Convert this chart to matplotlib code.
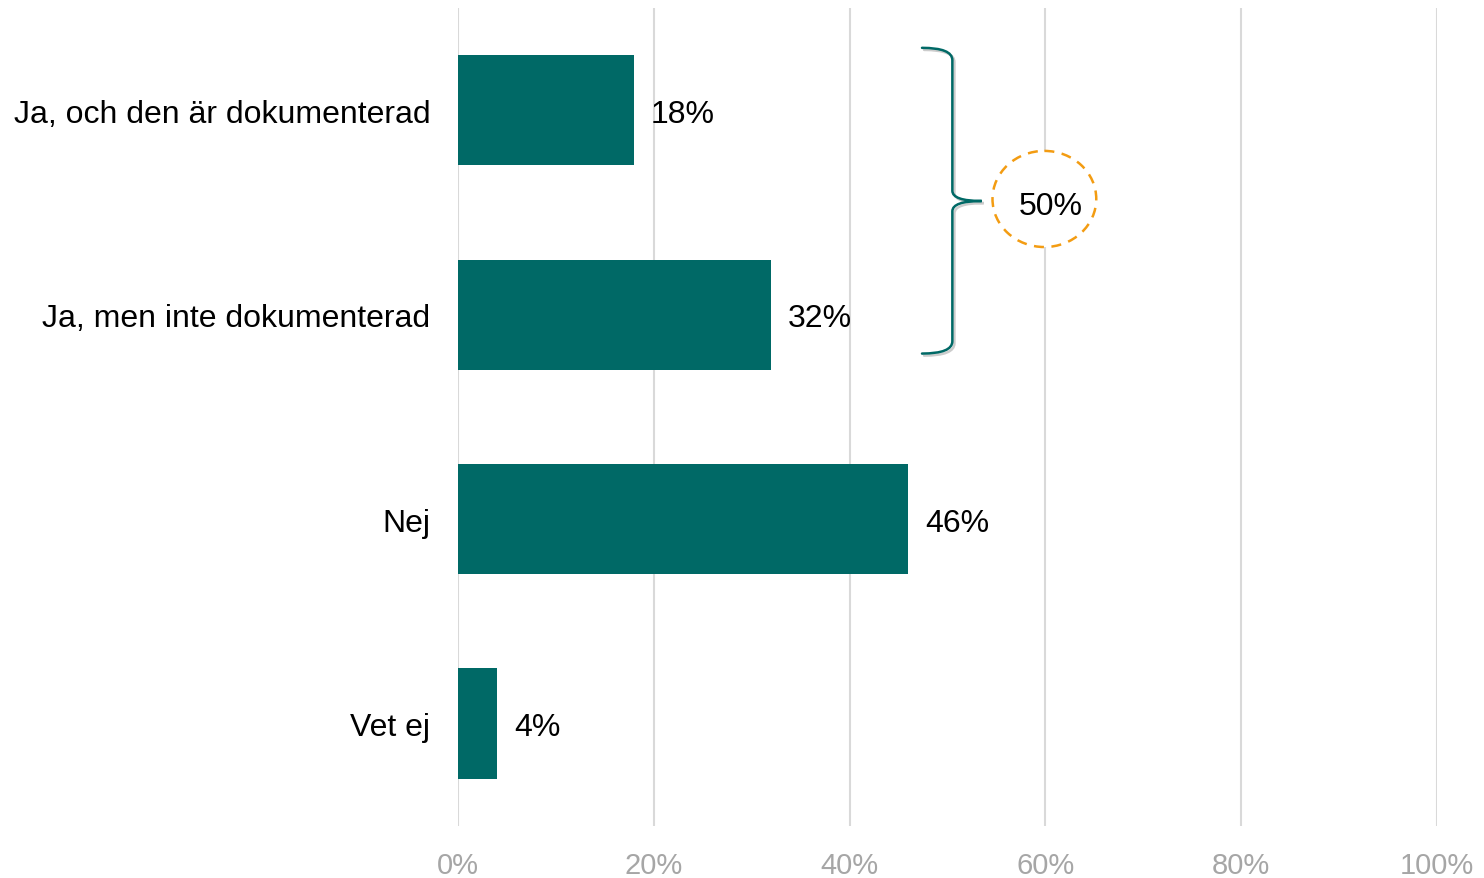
import matplotlib
matplotlib.use("Agg")
import matplotlib.pyplot as plt
import matplotlib.patheffects as pe
from matplotlib.patches import Ellipse, PathPatch
from matplotlib.path import Path

plt.rcParams["font.family"] = ["Liberation Sans", "DejaVu Sans"]

categories = ["Ja, och den är dokumenterad", "Ja, men inte dokumenterad", "Nej", "Vet ej"]
values = [18, 32, 46, 4]
x_ticks = [0, 20, 40, 60, 80, 100]
group_total = values[0] + values[1]  # shown in the dashed circle

BAR_COLOR = "#006966"
GRID_COLOR = "#D9D9D9"
TICK_COLOR = "#A6A6A6"
ACCENT = "#F39C12"

fig = plt.figure(figsize=(14.84, 8.79), dpi=100)
ax = fig.add_axes([0.3086, 0.0592, 0.6597, 0.9306])

y = list(range(len(categories)))
bars = ax.barh(y, values, height=0.54, color=BAR_COLOR, zorder=3)

for bar, val in zip(bars, values):
    ax.text(bar.get_width() + 1.7, bar.get_y() + bar.get_height() / 2,
            f"{val}%", va="center_baseline", ha="left", fontsize=23, color="black")

ax.set_xlim(0, 100)
ax.set_ylim(len(categories) - 0.5, -0.5)
ax.set_xticks(x_ticks)
ax.set_xticklabels([f"{t}%" for t in x_ticks])
ax.set_yticks(y)
ax.set_yticklabels(categories)
ax.tick_params(axis="x", length=0, pad=18, labelsize=21, labelcolor=TICK_COLOR)
ax.tick_params(axis="y", length=0, pad=20, labelsize=23, labelcolor="black")
ax.grid(axis="x", color=GRID_COLOR, linewidth=1.5, zorder=0)
for s in ax.spines.values():
    s.set_visible(False)

# curly brace spanning the two "Ja" bars
bx, tip_x, end_x = 50.5, 53.5, 47.4
y0, y1, ym = -0.305, 1.19, 0.444
verts = [
    (end_x, y0), (bx, y0), (bx, y0 + 0.06),
    (bx, ym - 0.05),
    (bx, ym), (tip_x, ym),
    (bx, ym), (bx, ym + 0.05),
    (bx, y1 - 0.06),
    (bx, y1), (end_x, y1),
]
codes = [Path.MOVETO, Path.CURVE3, Path.CURVE3, Path.LINETO,
         Path.CURVE3, Path.CURVE3, Path.CURVE3, Path.CURVE3,
         Path.LINETO, Path.CURVE3, Path.CURVE3]
brace = PathPatch(Path(verts, codes), facecolor="none", edgecolor=BAR_COLOR,
                  linewidth=1.8, zorder=4, capstyle="round",
                  path_effects=[pe.SimpleLineShadow(offset=(1.5, -1.5), alpha=0.2),
                                pe.Normal()])
ax.add_patch(brace)

circle = Ellipse((59.9, 0.434), width=10.6, height=0.47, facecolor="white",
                 edgecolor=ACCENT, linewidth=1.8, linestyle=(0, (4, 3)), zorder=4)
ax.add_patch(circle)
ax.text(60.5, 0.45, f"{group_total}%", ha="center", va="center_baseline",
        fontsize=23, color="black", zorder=5)

fig.savefig("out.png", dpi=100)
